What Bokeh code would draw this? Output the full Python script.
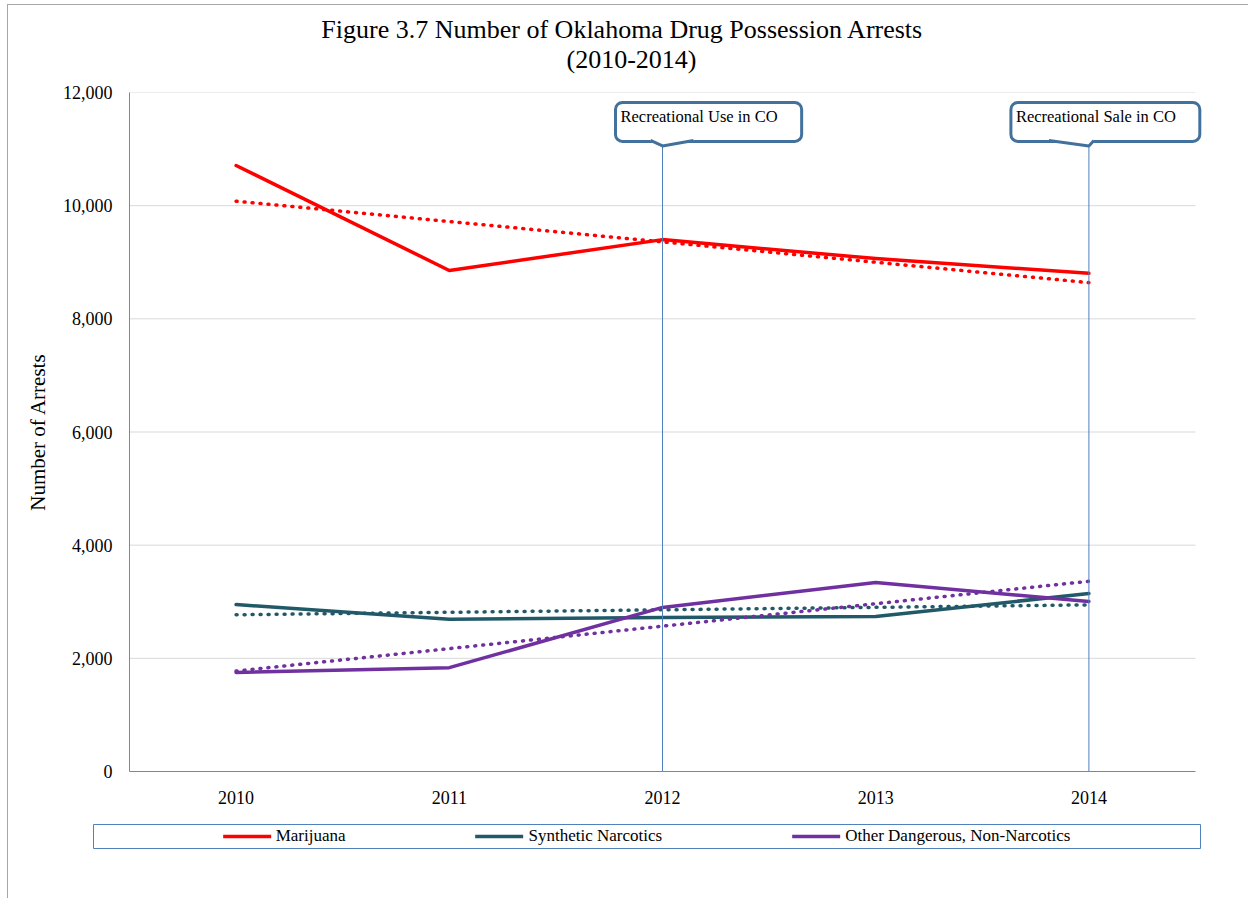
from bokeh.plotting import figure
from bokeh.models import Range1d, FixedTicker, NumeralTickFormatter, Label, Legend, LegendItem
from bokeh.layouts import column
from bokeh.embed import file_html
from bokeh.resources import INLINE

# ---------------- data ----------------
years = [2010, 2011, 2012, 2013, 2014]
marijuana = [10710, 8855, 9400, 9065, 8805]
synthetic = [2950, 2690, 2720, 2740, 3145]
other = [1750, 1835, 2900, 3340, 3005]

trend_years = [2010, 2014]
marijuana_trend = [10080, 8640]
synthetic_trend = [2770, 2945]
other_trend = [1775, 3362]

y_ticks = [0, 2000, 4000, 6000, 8000, 10000, 12000]

event_years = [2012, 2014]
event_labels = ["Recreational Use in CO", "Recreational Sale in CO"]

series_names = ["Marijuana", "Synthetic Narcotics", "Other Dangerous, Non-Narcotics"]
series_colors = ["#ff0000", "#215968", "#7030a0"]

title_line1 = "Figure 3.7 Number of Oklahoma Drug Possession Arrests"
title_line2 = "(2010-2014)"
y_label = "Number of Arrests"

FONT = "Liberation Serif"
W = 1240
AXIS_W = 1066          # pixel width of the category axis
EXTRA_R = 10           # extra frame room on the right so the right callout is not clipped
FRAME_W = AXIS_W + EXTRA_R
px_per_year = AXIS_W / 5.0
x_start, x_end = years[0] - 0.5, years[-1] + 0.5

# ---------------- title figure (frame aligned with the main plot's frame) ----------------
tf = figure(width=W, height=77, output_backend="svg", toolbar_location=None,
            x_range=Range1d(0, FRAME_W), y_range=Range1d(0, 77), x_axis_type=None, y_axis_type=None,
            min_border=0)
tf.outline_line_color = None
tf.xgrid.grid_line_color = None
tf.ygrid.grid_line_color = None
tf.border_fill_color = "white"
tf.add_layout(Label(x=493, y=53, text=title_line1, text_align="center", text_baseline="alphabetic",
                    text_font=FONT, text_font_size="26px", text_color="black"))
tf.add_layout(Label(x=502, y=23, text=title_line2, text_align="center", text_baseline="alphabetic",
                    text_font=FONT, text_font_size="26px", text_color="black"))

# ---------------- main figure ----------------
p = figure(width=W, height=727, output_backend="svg", toolbar_location=None,
           x_range=Range1d(x_start, x_end + EXTRA_R / px_per_year), y_range=Range1d(0, 12000),
           min_border_left=121, min_border_right=W - 121 - FRAME_W, min_border_top=10,
           min_border_bottom=38)
p.outline_line_color = None
p.background_fill_color = "white"
p.border_fill_color = "white"

p.xgrid.grid_line_color = None
p.ygrid.grid_line_color = None
# horizontal gridlines limited to the category axis extent
grid_vals = y_ticks[1:]
p.segment(x0=[x_start] * len(grid_vals), y0=grid_vals, x1=[x_end] * len(grid_vals), y1=grid_vals,
          line_color="#d9d9d9", line_width=1, level="underlay")

p.xaxis.ticker = FixedTicker(ticks=years)
p.xaxis.bounds = (x_start, x_end)
p.yaxis.ticker = FixedTicker(ticks=y_ticks)
p.yaxis.formatter = NumeralTickFormatter(format="0,0")
for ax in (p.xaxis, p.yaxis):
    ax.axis_line_color = "#868686"
    ax.axis_line_width = 1
    ax.major_tick_line_color = None
    ax.minor_tick_line_color = None
    ax.major_tick_out = 0
    ax.major_tick_in = 0
    ax.major_label_text_font = FONT
    ax.major_label_text_font_size = "18px"
    ax.major_label_text_color = "black"
p.xaxis.major_label_standoff = 19
p.yaxis.major_label_standoff = 17
p.yaxis.axis_label = y_label
p.yaxis.axis_label_text_font = FONT
p.yaxis.axis_label_text_font_size = "21px"
p.yaxis.axis_label_text_font_style = "normal"
p.yaxis.axis_label_text_color = "black"
p.yaxis.axis_label_standoff = 10

# series + trendlines
series = [marijuana, synthetic, other]
trends = [marijuana_trend, synthetic_trend, other_trend]
for vals, tr, col in zip(series, trends, series_colors):
    p.line(trend_years, tr, line_color=col, line_width=3.5, line_dash="1 7", line_cap="round")
    p.line(years, vals, line_color=col, line_width=3.5, line_join="round", line_cap="round")

# event markers / callouts
px_per_unit = 679 / 12000.0
box_mid = 11480
box_bottom = box_mid - 18.5 / px_per_unit
tail_tip = box_bottom - 5.5 / px_per_unit
cover_top = box_bottom + 2.5 / px_per_unit
box_left_off = [-47, -78]
tail_offs = [(-12, 31), (-40, 5)]

p.segment(x0=event_years, y0=[0] * len(event_years), x1=event_years,
          y1=[tail_tip] * len(event_years), line_color="#4f81bd", line_width=1)

for ev, txt, loff, (tl, tr_) in zip(event_years, event_labels, box_left_off, tail_offs):
    lab = Label(x=ev, y=box_mid, x_offset=loff, text=txt, text_align="left",
                text_baseline="middle", text_font=FONT, text_font_size="16.5px",
                text_color="black", background_fill_color="white",
                border_line_color="#41719c", border_line_width=3,
                border_radius=7, padding=(5, 24, 5, 15))
    p.add_layout(lab)
    xl = ev + tl / px_per_year
    xr = ev + tr_ / px_per_year
    cover = p.patch([xl, ev, xr, xr, xl], [box_bottom, tail_tip, box_bottom, cover_top, cover_top],
                    fill_color="white", line_color=None)
    cover.level = "overlay"
    tail = p.line([xl, ev, xr], [box_bottom, tail_tip, box_bottom], line_color="#41719c",
                  line_width=3, line_join="round")
    tail.level = "overlay"

# ---------------- legend figure (separate root, not frame-aligned) ----------------
lg = figure(width=W, height=89, output_backend="svg", toolbar_location=None,
            x_range=Range1d(0, 1), y_range=Range1d(0, 1), x_axis_type=None, y_axis_type=None,
            min_border_left=85, min_border_right=48, min_border_top=15, min_border_bottom=50,
            styles={"border-left": "1px solid #a6a6a6", "margin-left": "7px"})
lg.outline_line_color = "#4f81bd"
lg.outline_line_width = 1
lg.xgrid.grid_line_color = None
lg.ygrid.grid_line_color = None
lg.border_fill_color = "white"

items = []
for name, col in zip(series_names, series_colors):
    r = lg.line(x=[-5, -4], y=[-5, -4], line_color=col, line_width=3.5, line_cap="round")
    items.append(LegendItem(label=name, renderers=[r]))
legend = Legend(items=items, location="center", orientation="horizontal",
                border_line_color=None, background_fill_alpha=0, padding=0, margin=0,
                spacing=130, glyph_width=48, glyph_height=20, label_standoff=5,
                label_text_font=FONT, label_text_font_size="17px", label_text_color="black")
lg.add_layout(legend)

layout = column(tf, p, styles={"border-left": "1px solid #a6a6a6", "border-top": "1px solid #a6a6a6",
                               "margin-left": "7px", "margin-top": "4px"})

open("out.html", "w").write(file_html([layout, lg], INLINE))
